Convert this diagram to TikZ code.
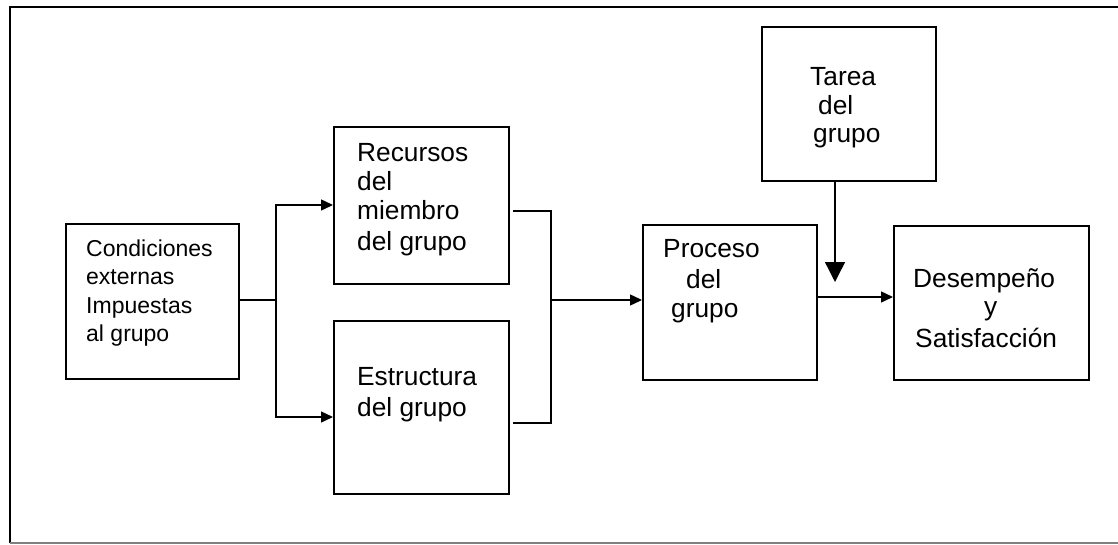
\documentclass[tikz,border=0pt]{standalone}
\usepackage{fontspec}
\setmainfont{Liberation Sans}
\usetikzlibrary{arrows.meta}
\begin{document}
\begin{tikzpicture}[x=1pt,y=-1pt,
  boxx/.style={draw=black,line width=1.7pt,minimum width=#1,anchor=north west,inner sep=0pt},
  txt/.style={anchor=base west,inner sep=0pt,font=\fontsize{26.3}{30}\selectfont},
  txts/.style={anchor=base west,inner sep=0pt,font=\fontsize{23}{28}\selectfont},
  conn/.style={draw=black,line width=1.4pt},
  arr/.style={conn,-{Triangle[length=12pt,width=11pt]}},
  bigarr/.style={conn,-{Triangle[length=20pt,width=20pt]}}]
\useasboundingbox (0,0) rectangle (1118,545);
% outer frame
\draw[line width=1.6pt] (10,543) -- (10,7) -- (1118,7);
\draw[line width=1.2pt,gray] (10,543) -- (1118,543);
% boxes
\node[boxx=173pt,minimum height=155pt] (cond) at (65,223) {};
\node[boxx=175pt,minimum height=157pt] (rec) at (333,126) {};
\node[boxx=175pt,minimum height=173pt] (est) at (333,320) {};
\node[boxx=174pt,minimum height=155pt] (proc) at (642,224) {};
\node[boxx=174pt,minimum height=154pt] (tar) at (761,26) {};
\node[boxx=195pt,minimum height=154pt] (des) at (893,225) {};
% texts
\node[txts] (c1) at (86,256) {Condiciones};
\node[txts] (c2) at (86,284) {externas};
\node[txts] (c3) at (86,313) {Impuestas};
\node[txts] (c4) at (86,341) {al grupo};
\node[txt] (r1) at (357,162) {Recursos};
\node[txt] (r2) at (357,191) {del};
\node[txt] (r3) at (357,220) {miembro};
\node[txt] (r4) at (357,251) {del grupo};
\node[txt] (e1) at (357,385) {Estructura};
\node[txt] (e2) at (357,416) {del grupo};
\node[txt] (p1) at (663,258) {Proceso};
\node[txt] (p2) at (686,288) {del};
\node[txt] (p3) at (671,317) {grupo};
\node[txt] (t1) at (810,86) {Tarea};
\node[txt] (t2) at (818,115) {del};
\node[txt] (t3) at (813,143) {grupo};
\node[txt] (d1) at (913,287) {Desempeño};
\node[txt] (d2) at (984,315) {y};
\node[txt] (d3) at (915,347) {Satisfacción};
% connectors
\coordinate (split) at (276,300);
\draw[conn] (cond.east |- split) -- (split);
\draw[arr] (split) |- (rec.west |- 0,205);
\draw[arr] (split) |- (est.west |- 0,417);
\coordinate (bt) at (513,211);
\coordinate (bb) at (513,423);
\coordinate (bm) at (551,300);
\draw[conn] (bt) -| (bm) |- (bb);
\draw[arr] (bm) -- (proc.west |- bm);
\draw[arr] (proc.east |- 0,297) -- (des.west |- 0,297);
\coordinate (tip) at (835,282);
\draw[bigarr] (tar.south -| tip) -- (tip);
\end{tikzpicture}
\end{document}
